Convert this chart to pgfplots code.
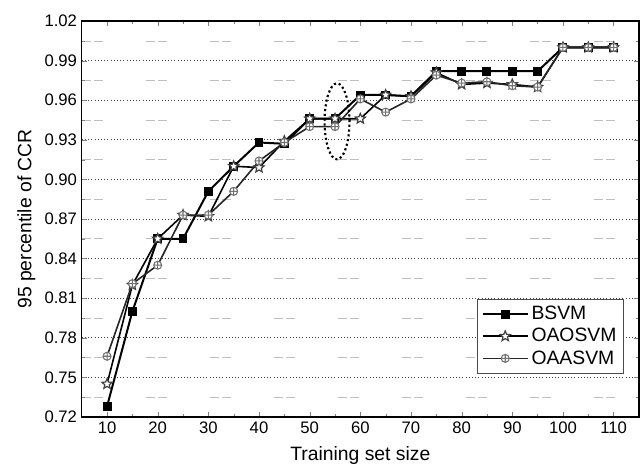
\documentclass[border=0pt]{standalone}
\usepackage{fontspec}
\setmainfont{Liberation Sans}
\usepackage{pgfplots}
\pgfplotsset{compat=1.18}

% outlined five-pointed star
\pgfdeclareplotmark{ostar}{%
  \pgfpathmoveto{\pgfpointpolar{90}{\pgfplotmarksize}}%
  \pgfpathlineto{\pgfpointpolar{126}{0.45\pgfplotmarksize}}%
  \pgfpathlineto{\pgfpointpolar{162}{\pgfplotmarksize}}%
  \pgfpathlineto{\pgfpointpolar{198}{0.45\pgfplotmarksize}}%
  \pgfpathlineto{\pgfpointpolar{234}{\pgfplotmarksize}}%
  \pgfpathlineto{\pgfpointpolar{270}{0.45\pgfplotmarksize}}%
  \pgfpathlineto{\pgfpointpolar{306}{\pgfplotmarksize}}%
  \pgfpathlineto{\pgfpointpolar{342}{0.45\pgfplotmarksize}}%
  \pgfpathlineto{\pgfpointpolar{18}{\pgfplotmarksize}}%
  \pgfpathlineto{\pgfpointpolar{54}{0.45\pgfplotmarksize}}%
  \pgfpathclose
  \pgfusepathqfillstroke
}

\begin{document}
\begin{tikzpicture}
\begin{axis}[
    scale only axis,
    width=418pt,
    height=297pt,
    xmin=5, xmax=115,
    ymin=0.72, ymax=1.02,
    xtick={10,20,...,110},
    minor x tick num=1,
    ytick={0.72,0.75,...,1.03},
    minor y tick num=1,
    tick align=inside,
    major tick length=4pt,
    minor tick length=2.5pt,
    xtick pos=both, ytick pos=both,
    xticklabel pos=lower, yticklabel pos=left,
    ymajorgrids=true,
    yminorgrids=true,
    major grid style={black!75, dotted, line width=0.6pt},
    minor grid style={black!25, line width=0.5pt, dash pattern=on 7pt off 2pt on 7pt off 32pt},
    yticklabel style={/pgf/number format/.cd, fixed, fixed zerofill, precision=2},
    /pgf/number format/assume math mode=true,
    ticklabel style={font=\fontsize{12.5}{14}\selectfont},
    label style={font=\fontsize{14.5}{17}\selectfont},
    xlabel={Training set size},
    xlabel style={yshift=-3pt},
    ylabel={95 percentile of CCR},
    legend style={at={(0.972,0.297)}, anchor=north east, draw=black!70,
        font=\fontsize{14.5}{17}\selectfont, row sep=1pt, inner sep=3pt},
    legend cell align=left,
    legend image code/.code={%
        \draw[#1] (0pt,0pt) -- (34pt,0pt);
        \draw[#1, only marks] plot coordinates {(17pt,0pt)};},
    axis line style={line width=1pt},
]
\addplot[black, line width=1.5pt, mark=square*, mark size=2.6pt,
    mark options={solid, fill=black}] coordinates {
    (10,0.728) (15,0.800) (20,0.855) (25,0.855) (30,0.891) (35,0.910) (40,0.928)
    (45,0.927) (50,0.946) (55,0.946) (60,0.964) (65,0.964) (70,0.963) (75,0.982)
    (80,0.982) (85,0.982) (90,0.982) (95,0.982) (100,1.000) (105,1.000) (110,1.000)
};
\addplot[black, line width=1.2pt, mark=ostar, mark size=4pt,
    mark options={solid, fill=white, draw=black!75, line width=0.9pt}] coordinates {
    (10,0.745) (15,0.820) (20,0.855) (25,0.873) (30,0.872) (35,0.910) (40,0.909)
    (45,0.929) (50,0.946) (55,0.946) (60,0.946) (65,0.964) (70,0.963) (75,0.981)
    (80,0.972) (85,0.973) (90,0.972) (95,0.970) (100,1.000) (105,1.000) (110,1.000)
};
\addplot[black!85, line width=1.2pt, mark=oplus*, mark size=3pt,
    mark options={solid, fill=white, draw=black!55, line width=0.8pt}] coordinates {
    (10,0.766) (15,0.821) (20,0.835) (25,0.873) (30,0.873) (35,0.891) (40,0.914)
    (45,0.928) (50,0.940) (55,0.940) (60,0.961) (65,0.951) (70,0.961) (75,0.979)
    (80,0.973) (85,0.974) (90,0.971) (95,0.970) (100,1.000) (105,1.000) (110,1.000)
};
\legend{BSVM, OAOSVM, OAASVM}
\draw[black, dotted, line width=1.6pt] (axis cs:55.4,0.944) ellipse [x radius=2.46, y radius=0.0288];
\coordinate (bl) at (rel axis cs:0,0);
\coordinate (tr) at (rel axis cs:1,1);
\end{axis}
\pgfresetboundingbox
\path[use as bounding box] ([shift={(-61.3pt,-38.3pt)}]bl) rectangle ([shift={(0.8pt,15.8pt)}]tr);
\end{tikzpicture}
\end{document}
